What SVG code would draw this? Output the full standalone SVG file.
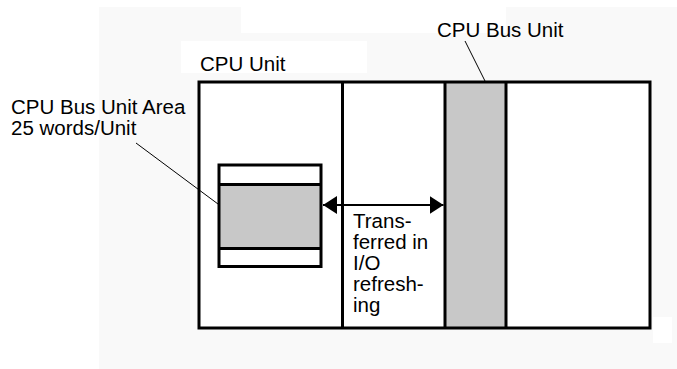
<svg xmlns="http://www.w3.org/2000/svg" width="677" height="369" viewBox="0 0 677 369">
<style>
.t{font-family:"Liberation Sans",Arial,sans-serif;font-size:20.5px;fill:#000}
.box{fill:none;stroke:#000;stroke-width:3}
.lead{stroke:#000;stroke-width:1;fill:none}
</style>
<defs>
<marker id="ah" viewBox="0 0 14 18" refX="14" refY="9" markerWidth="14" markerHeight="18" markerUnits="userSpaceOnUse" orient="auto-start-reverse">
<path d="M0,0 L14,9 L0,18 Z" fill="#000"/>
</marker>
</defs>
<g id="background">
<rect x="0" y="0" width="677" height="369" fill="#fff"/>
<rect x="99" y="7" width="578" height="362" fill="#f9f9f9"/>
<rect x="241" y="0" width="265" height="33" fill="#fff"/>
<rect x="181" y="41" width="186" height="32" fill="#fff"/>
<rect x="653" y="317" width="19" height="26" fill="#fff"/>
</g>
<g id="cpu-unit">
<rect x="199" y="82" width="451" height="246" fill="#fff" stroke="none"/>
<rect x="445" y="82" width="61" height="246" fill="#c8c8c8"/>
<rect class="box" x="199" y="82" width="451" height="246"/>
<line class="box" x1="342.5" y1="82" x2="342.5" y2="328"/>
<line class="box" x1="445" y1="82" x2="445" y2="328"/>
<line class="box" x1="506" y1="82" x2="506" y2="328"/>
<text class="t" x="200" y="71">CPU Unit</text>
</g>
<g id="bus-area">
<rect x="219" y="165" width="102" height="101" fill="#fff"/>
<rect x="219" y="184.5" width="102" height="64" fill="#c8c8c8"/>
<rect class="box" x="219" y="165" width="102" height="101.5"/>
<line class="box" x1="219" y1="184.5" x2="321" y2="184.5"/>
<line class="box" x1="219" y1="248.5" x2="321" y2="248.5"/>
</g>
<g id="labels">
<text class="t" x="11" y="114">CPU Bus Unit Area<tspan x="11" dy="21">25 words/Unit</tspan></text>
<text class="t" x="437" y="37">CPU Bus Unit</text>
<text class="t" x="353" y="228">Trans-<tspan x="353" dy="21">ferred in</tspan><tspan x="353" dy="21">I/O</tspan><tspan x="353" dy="21">refresh-</tspan><tspan x="353" dy="21">ing</tspan></text>
</g>
<g id="connectors">
<line class="lead" x1="136" y1="143" x2="218" y2="204"/>
<line class="lead" x1="465" y1="41" x2="485" y2="81"/>
<line x1="323" y1="205" x2="443.5" y2="205" stroke="#000" stroke-width="2" marker-start="url(#ah)" marker-end="url(#ah)"/>
</g>
</svg>
